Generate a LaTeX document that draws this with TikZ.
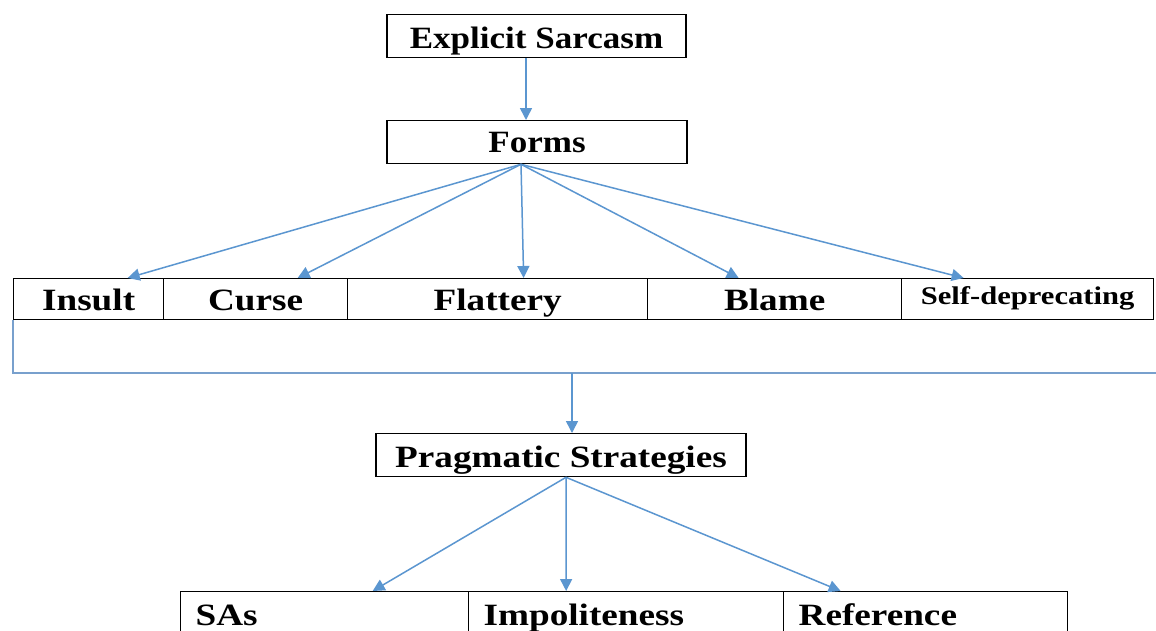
\documentclass[tikz,border=0pt]{standalone}
\usepackage{fontspec}
\setmainfont{Liberation Serif}[FakeStretch=1.2]
\newfontfamily\topfont{Liberation Serif}[FakeStretch=1.13]
\usetikzlibrary{arrows.meta}
\definecolor{arr}{RGB}{91,150,208}
\definecolor{brk}{RGB}{120,160,205}
\tikzset{
  box/.style={draw=black, line width=1.3pt, inner ysep=0pt, inner xsep=0pt,
    font=\fontsize{31}{37}\selectfont\bfseries},
  topbox/.style={box, font=\topfont\fontsize{31}{37}\selectfont\bfseries},
  cell/.style={box, text height=32pt, text depth=9pt, anchor=north west},
  lowcell/.style={box, inner xsep=15pt, align=left, text height=34pt, text depth=60pt, anchor=north west},
  conn/.style={draw=arr, line width=1.5pt, -{Triangle[length=12pt,width=12pt]}},
  bracket/.style={draw=brk, line width=2pt},
}
\begin{document}
\begin{tikzpicture}[x=1pt,y=-1pt]
\useasboundingbox (0,0) rectangle (1156,630);
\clip (0,0) rectangle (1156,630);
\fill[white] (0,0) rectangle (1156,630);

\node[topbox, minimum width=299pt, text height=34pt, text depth=9pt, anchor=north] (es) at (536.5,14) {Explicit Sarcasm};
\node[topbox, minimum width=300pt, text height=32pt, text depth=11pt, anchor=north] (forms) at (537,120) {Forms};

\node[cell, minimum width=150pt] (insult) at (13,278) {Insult};
\node[cell, minimum width=184pt] (curse) at (163,278) {Curse};
\node[cell, minimum width=300pt] (flattery) at (347,278) {Flattery};
\node[cell, minimum width=254pt] (blame) at (647,278) {Blame};
\node[cell, minimum width=252pt, font=\fontsize{25.5}{30}\selectfont\bfseries, text height=26pt, text depth=15pt] (selfdep) at (901,278) {Self-deprecating};

\coordinate (br) at (1156,373);
\coordinate (bm) at (572,373);
\draw[bracket] (insult.south west) |- (br);

\node[box, minimum width=370pt, text height=34pt, text depth=9pt, anchor=north] (prag) at (561,433) {Pragmatic Strategies};

\node[lowcell, text width=258pt] (sas) at (180,591) {SAs};
\node[lowcell, text width=285pt] (imp) at (468,591) {Impoliteness};
\node[lowcell, text width=254pt] (ref) at (783,591) {Reference};

\draw[conn] (es.south -| 526,0) -- (forms.north -| 526,0);
\draw[conn] ([xshift=-16pt]forms.south) -- ([xshift=39pt]insult.north);
\draw[conn] ([xshift=-16pt]forms.south) -- ([xshift=42pt]curse.north);
\draw[conn] ([xshift=-16pt]forms.south) -- ([xshift=26pt]flattery.north);
\draw[conn] ([xshift=-16pt]forms.south) -- ([xshift=-36pt]blame.north);
\draw[conn] ([xshift=-16pt]forms.south) -- ([xshift=-64pt]selfdep.north);

\draw[conn] (bm) -- (bm |- prag.north);

\draw[conn] ([xshift=5pt]prag.south) -- ([xshift=48pt]sas.north);
\draw[conn] ([xshift=5pt]prag.south) -- ([xshift=-60pt]imp.north);
\draw[conn] ([xshift=5pt]prag.south) -- ([xshift=-85pt]ref.north);
\end{tikzpicture}
\end{document}
